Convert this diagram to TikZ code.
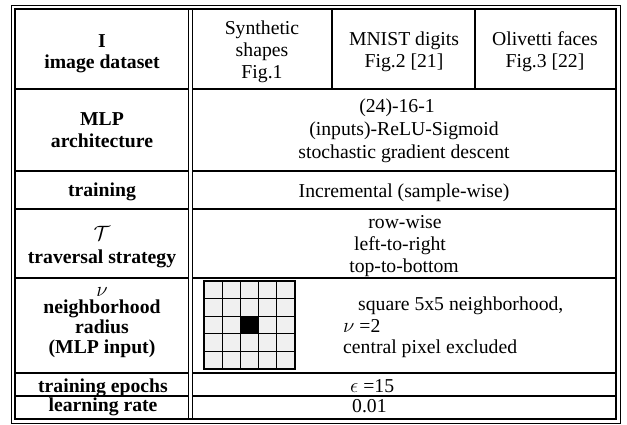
\documentclass[tikz,border=0pt]{standalone}
\usepackage{fontspec}
\setmainfont{Liberation Serif}
\definecolor{pixgray}{HTML}{F0F0F0}
\tikzset{
  cell/.style={inner sep=0pt, anchor=base, font=\fontsize{19.7}{22}\selectfont},
  head/.style={cell, font=\fontsize{19.7}{22}\selectfont\bfseries},
  lcell/.style={cell, anchor=base west},
  rule/.style={line width=1.1pt},
  heavy/.style={line width=1.9pt},
  frame/.style={line width=1.0pt},
  pixel/.style={line width=1.3pt, fill=pixgray},
}
\begin{document}
\begin{tikzpicture}[x=1pt,y=-1pt]
\useasboundingbox (0,0) rectangle (627,424);

% double outer frame
\draw[frame] (11,5) rectangle (620,423);
\draw[line width=1.4pt] (15,9) rectangle (616,419);
% double divider between label column and values
\draw[frame] (188,9) -- (188,419);
\draw[frame] (192,9) -- (192,419);

% header column separators
\draw[rule] (332,9) -- (332,89);
\draw[rule] (475,9) -- (475,89);

% row rules, label column
\foreach \y in {89,171,209,278,373,396}
  \draw[rule] (15,\y) -- (188,\y);
% row rules, value columns
\draw[heavy] (192,89) -- (616,89);
\draw[rule] (192,171) -- (616,171);
\draw[rule] (192,209) -- (616,209);
\draw[heavy] (192,278) -- (310,278);
\draw[rule] (310,278) -- (616,278);
\draw[heavy] (192,373) -- (310,373);
\draw[rule] (310,373) -- (616,373);
\draw[rule] (192,396) -- (616,396);

% 5x5 neighbourhood with the excluded central pixel
\foreach \i in {0,...,4}
  \foreach \j in {0,...,4}
    \draw[pixel] ({204+18.2*\i},{281+17.6*\j}) rectangle ++(18.2,17.6);
\fill[black] ({204+18.2*2},{281+17.6*2}) rectangle ++(18.2,17.6);

% label column
\node[head] (hI) at (102,47) {I};
\node[head] (hds) at (102,68) {image dataset};
\node[head] (hmlp) at (102,125) {MLP};
\node[head] (harch) at (102,147) {architecture};
\node[head] (htrain) at (102,196) {training};
\node[cell] (hT) at (102,240) {$\mathcal{T}$};
\node[head] (htrav) at (102,263) {traversal strategy};
\node[cell] (hnu) at (102,296) {$\nu$};
\node[head] (hnb) at (102,313.5) {neighborhood};
\node[head] (hrad) at (102,333.5) {radius};
\node[head] (hin) at (102,353.5) {(MLP input)};
\node[head] (hep) at (103,392) {training epochs};
\node[head] (hlr) at (103,411.5) {learning rate};

% dataset header cells
\node[cell] (s1) at (262,34) {Synthetic};
\node[cell] (s2) at (262,56.5) {shapes};
\node[cell] (s3) at (262,78) {Fig.1};
\node[cell] (m1) at (404,45) {MNIST digits};
\node[cell] (m2) at (404,67.5) {Fig.2 [21]};
\node[cell] (o1) at (545,45) {Olivetti faces};
\node[cell] (o2) at (545,67.5) {Fig.3 [22]};

% architecture
\node[cell] (a1) at (397,112) {(24)-16-1};
\node[cell] (a2) at (404,135) {(inputs)-ReLU-Sigmoid};
\node[cell] (a3) at (404,158) {stochastic gradient descent};

% training mode
\node[cell] (t1) at (404,197) {Incremental (sample-wise)};

% traversal
\node[cell] (r1) at (405,228) {row-wise};
\node[cell] (r2) at (400,250) {left-to-right};
\node[cell] (r3) at (404,272) {top-to-bottom};

% neighbourhood description
\node[lcell] (n1) at (358,310) {square 5x5 neighborhood,};
\node[lcell] (n2) at (343,332) {$\nu$ =2};
\node[lcell] (n3) at (343,353.5) {central pixel excluded};

% epochs and learning rate
\node[lcell] (e1) at (350,392) {$\epsilon$ =15};
\node[lcell] (lr) at (352,412) {0.01};
\end{tikzpicture}
\end{document}
